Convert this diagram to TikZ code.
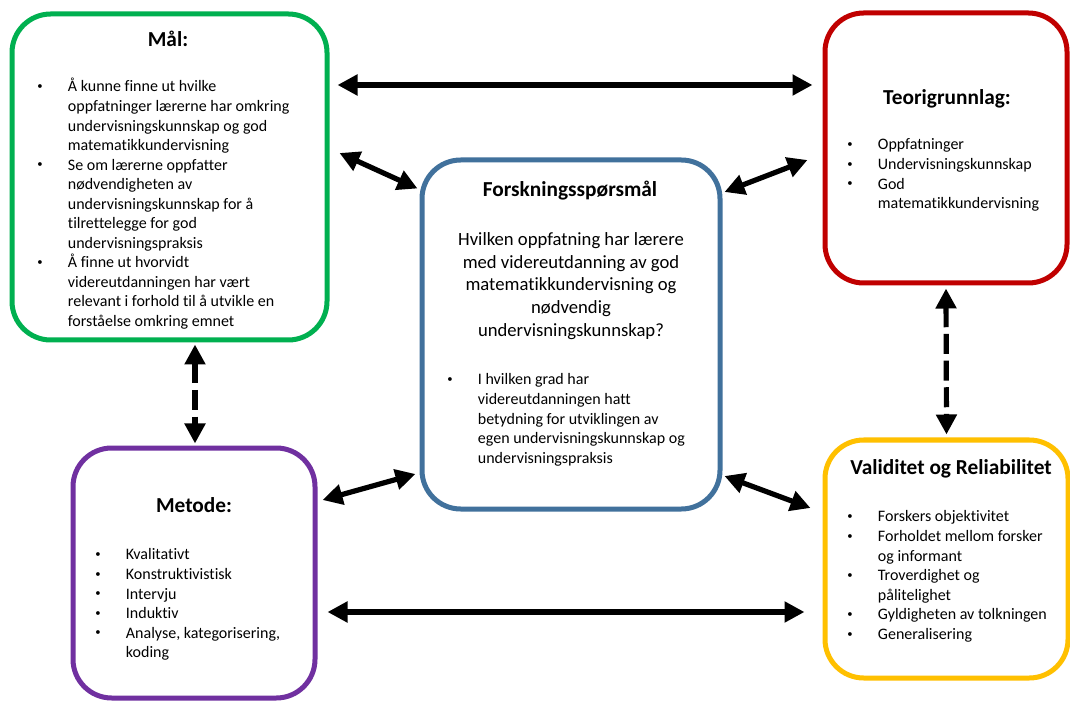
\documentclass[tikz,border=0pt]{standalone}
\usepackage{fontspec}
\setmainfont{Carlito}[Ligatures=NoCommon]
\usetikzlibrary{arrows.meta,calc}
\definecolor{cgreen}{HTML}{00B050}
\definecolor{cred}{HTML}{C00000}
\definecolor{cblue}{HTML}{41719C}
\definecolor{cpurple}{HTML}{7030A0}
\definecolor{cyellow}{HTML}{FFC000}
\newcommand{\bul}{\raisebox{1.6pt}{\fontsize{8}{8}\selectfont •}}
\newenvironment{blist}{\begin{tabular}{@{}p{23pt}@{}l@{}}}{\end{tabular}}
\tikzset{
  box/.style={draw=#1, line width=3.75pt, rounded corners=29pt, inner sep=0pt, fill=white},
  ttl/.style={font=\fontsize{16}{19}\selectfont\bfseries, inner sep=0pt},
  lst/.style={font=\fontsize{12}{14.65}\selectfont, inner sep=0pt, anchor=north west},
  qtext/.style={font=\fontsize{14}{17.1}\selectfont, inner sep=0pt, anchor=north, align=center},
  arr/.style={line width=3.9pt, {Triangle[length=15pt,width=15pt]}-{Triangle[length=15pt,width=15pt]}},
  darr/.style={arr, dash pattern=on 15pt off 5pt},
}
\begin{document}
\begin{tikzpicture}[x=0.75pt,y=-0.75pt]
\useasboundingbox[fill=white] (0,0) rectangle (1070,705);

% boxes
\node[box=cgreen, minimum width=236.25pt, minimum height=244.5pt] (mal) at (169.5,177) {};
\node[box=cred, minimum width=181.5pt, minimum height=202.5pt] (teo) at (946,148) {};
\node[box=cblue, minimum width=223.5pt, minimum height=261.75pt] (fors) at (571,334.5) {};
\node[box=cpurple, minimum width=181.5pt, minimum height=187.5pt] (met) at (194,573) {};
\node[box=cyellow, minimum width=182.25pt, minimum height=178.5pt] (val) at (946.5,559) {};

% titles
\node[ttl] (malT) at (168,39) {Mål:};
\node[ttl] (teoT) at (947,99) {Teorigrunnlag:};
\node[ttl] (forsT) at (570,191) {Forskningsspørsmål};
\node[ttl] (metT) at (194,505) {Metode:};
\node[ttl] (valT) at (951,469) {Validitet og Reliabilitet};

% lists
\node[lst] (malL) at (37,78) {\begin{blist}
\bul & Å kunne finne ut hvilke\\
 & oppfatninger lærerne har omkring\\
 & undervisningskunnskap og god\\
 & matematikkundervisning\\
\bul & Se om lærerne oppfatter\\
 & nødvendigheten av\\
 & undervisningskunnskap for å\\
 & tilrettelegge for god\\
 & undervisningspraksis\\
\bul & Å finne ut hvorvidt\\
 & videreutdanningen har vært\\
 & relevant i forhold til å utvikle en\\
 & forståelse omkring emnet
\end{blist}};

\node[lst] (teoL) at (847,136) {\begin{blist}
\bul & Oppfatninger\\
\bul & Undervisningskunnskap\\
\bul & God\\
 & matematikkundervisning
\end{blist}};

\node[qtext] (forsQ) at (571,232) {Hvilken oppfatning har lærere\\
med videreutdanning av god\\
matematikkundervisning og\\
nødvendig\\
undervisningskunnskap?};

\node[lst] (forsL) at (447,371) {\begin{blist}
\bul & I hvilken grad har\\
 & videreutdanningen hatt\\
 & betydning for utviklingen av\\
 & egen undervisningskunnskap og\\
 & undervisningspraksis
\end{blist}};

\node[lst] (metL) at (95,546) {\begin{blist}
\bul & Kvalitativt\\
\bul & Konstruktivistisk\\
\bul & Intervju\\
\bul & Induktiv\\
\bul & Analyse, kategorisering,\\
 & koding
\end{blist}};

\node[lst] (valL) at (847,508) {\begin{blist}
\bul & Forskers objektivitet\\
\bul & Forholdet mellom forsker\\
 & og informant\\
\bul & Troverdighet og\\
 & pålitelighet\\
\bul & Gyldigheten av tolkningen\\
\bul & Generalisering
\end{blist}};

% connectors
\draw[arr] ($(mal.east)+(8,-92)$) -- ($(teo.west)+(-10,-63)$);
\draw[arr] ($(mal.east)+(10,-24)$) -- ($(fors.west)+(-2,-146)$);
\draw[arr] ($(fors.east)+(2,-142.5)$) -- ($(teo.west)+(-15,12)$);
\draw[arr] ($(met.east)+(5,-73)$) -- ($(fors.west)+(-4,139.5)$);
\draw[arr] ($(fors.east)+(2,141.5)$) -- ($(val.west)+(-12,-51)$);
\draw[arr] ($(met.east)+(10,39)$) -- ($(val.west)+(-18,53)$);
\draw[darr] ($(mal.south)+(25.5,2)$) -- ($(met.north)+(1,-2)$);
\draw[darr] ($(teo.south)+(0,3)$) -- ($(val.north)+(0,-3)$);
\end{tikzpicture}
\end{document}
